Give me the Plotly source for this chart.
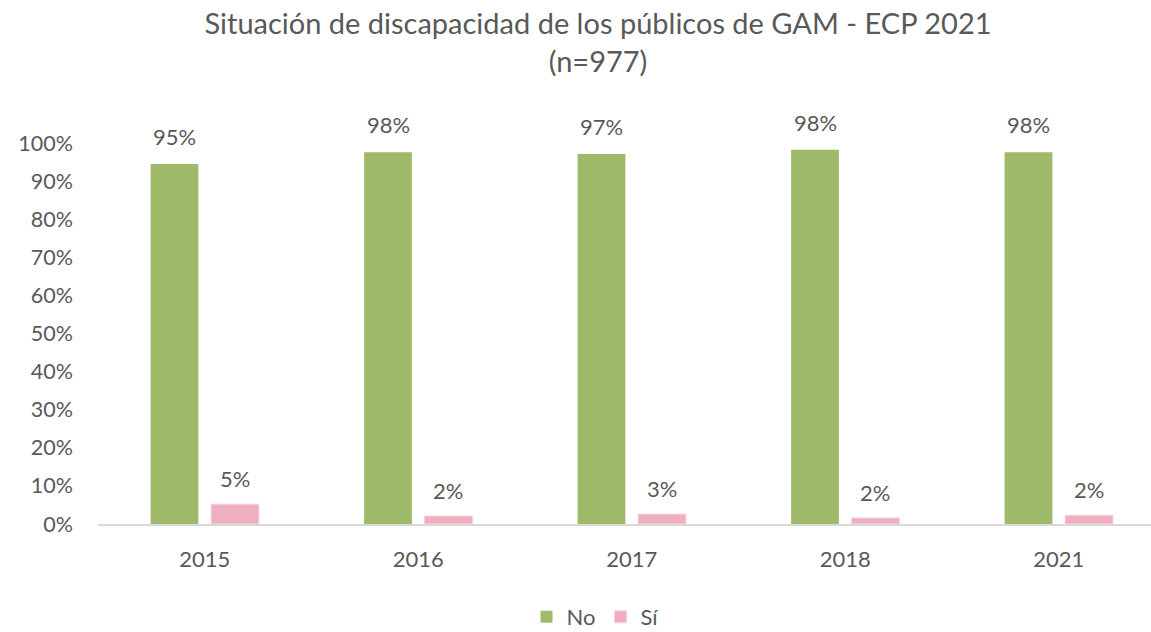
import plotly.graph_objects as go

years = ["2015", "2016", "2017", "2018", "2021"]
no_vals = [0.945, 0.976, 0.971, 0.982, 0.976]
si_vals = [0.052, 0.021, 0.026, 0.016, 0.023]
no_labels = ["95%", "98%", "97%", "98%", "98%"]
si_labels = ["5%", "2%", "3%", "2%", "2%"]

GREEN = "#9FBB69"
PINK = "#EFAFBF"
TXT = "#595959"
FONT = "Lato"

fig = go.Figure()
fig.add_trace(go.Bar(name="No", x=years, y=no_vals, marker=dict(color=GREEN, line=dict(width=0))))
fig.add_trace(go.Bar(name="Sí", x=years, y=si_vals, marker=dict(color=PINK, line=dict(color="#F7D3DC", width=1))))

anns = []
for i in range(len(years)):
    anns.append(dict(x=i, y=no_vals[i], xref="x", yref="y", text=no_labels[i], xshift=-30, yshift=12,
                     showarrow=False, yanchor="bottom", font=dict(size=22, color=TXT, family=FONT)))
    anns.append(dict(x=i, y=si_vals[i], xref="x", yref="y", text=si_labels[i], xshift=30, yshift=10,
                     showarrow=False, yanchor="bottom", font=dict(size=22, color=TXT, family=FONT)))

fig.update_layout(
    width=1151, height=632,
    margin=dict(l=98, r=0, t=143, b=108),
    paper_bgcolor="white", plot_bgcolor="white",
    barmode="group", bargap=0.433, bargroupgap=0.21,
    font=dict(family=FONT, color=TXT, size=21),
    title=dict(text="Situación de discapacidad de los públicos de GAM - ECP 2021<br>(n=977)",
               x=598/1151, xref="container", xanchor="center",
               y=1 - 34/632, yref="container", yanchor="top",
               font=dict(size=29, color=TXT, family=FONT)),
    xaxis=dict(type="category", range=[-0.5, 4.432], showgrid=False, showline=True,
               linecolor="#D9D9D9", linewidth=2, ticks="", tickfont=dict(size=22, color=TXT),
               ticklabelstandoff=15),
    yaxis=dict(range=[0, 1.0], dtick=0.1, tickformat=".0%", showgrid=False, zeroline=False,
               showline=False, tickfont=dict(size=21.5, color=TXT), ticklabelstandoff=24),
    legend=dict(orientation="h", x=595/1151, xref="container", xanchor="center",
                y=1 - 617/632, yref="container", yanchor="middle",
                font=dict(size=22, color=TXT), itemwidth=30, traceorder="normal"),
    annotations=anns,
)

fig.write_html("out.html", config={"displayModeBar": False},
               post_script="document.body.style.margin='0';document.body.style.padding='0';")
